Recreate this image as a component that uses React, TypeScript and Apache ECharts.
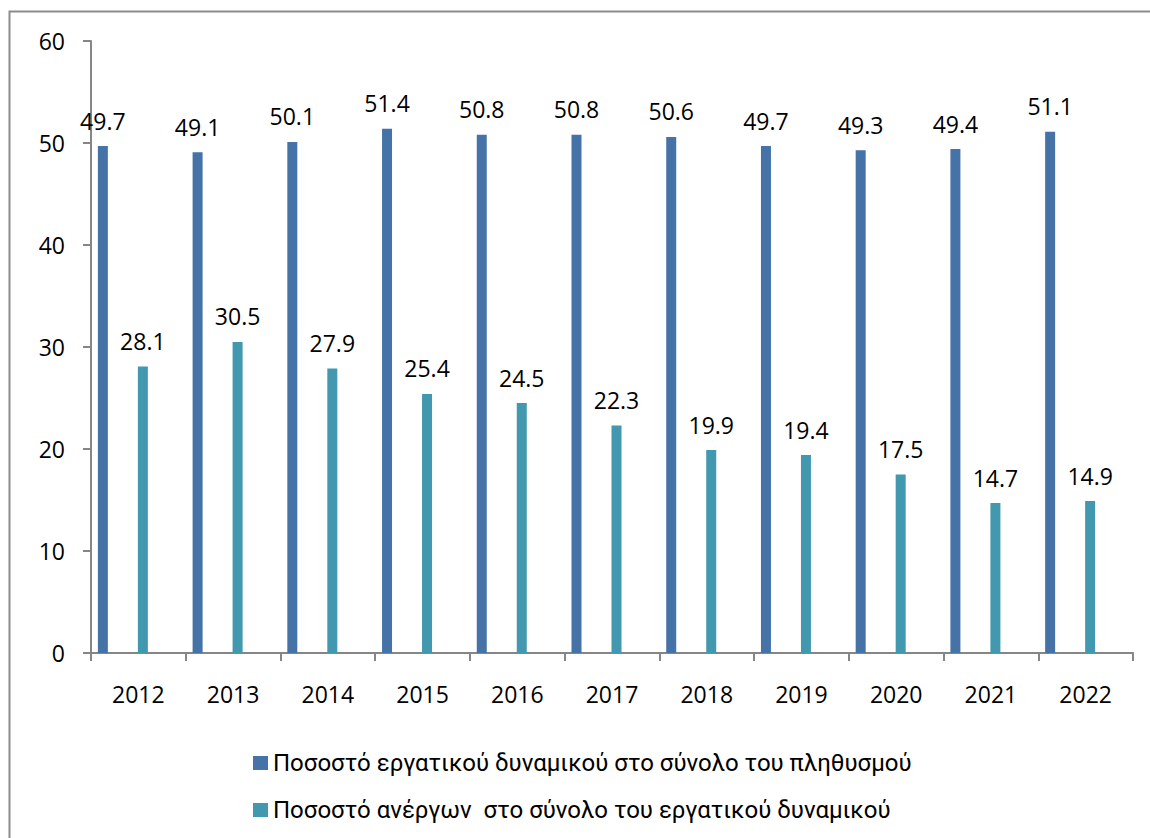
import React, { useEffect, useRef } from "react";
import * as echarts from "echarts";

const years = ["2012", "2013", "2014", "2015", "2016", "2017", "2018", "2019", "2020", "2021", "2022"];
const laborForceShare = [49.7, 49.1, 50.1, 51.4, 50.8, 50.8, 50.6, 49.7, 49.3, 49.4, 51.1];
const unemployedShare = [28.1, 30.5, 27.9, 25.4, 24.5, 22.3, 19.9, 19.4, 17.5, 14.7, 14.9];
const emptySeries = years.map(() => null);
const seriesNames = [
  "Ποσοστό εργατικού δυναμικού στο σύνολο του πληθυσμού",
  "Ποσοστό ανέργων  στο σύνολο του εργατικού δυναμικού",
];
const yTicks = { min: 0, max: 60, interval: 10 };

const FONT = "Open Sans";
const LEGEND_FONT = "Roboto";

export default function App() {
  const ref = useRef<HTMLDivElement>(null);
  useEffect(() => {
    if (!ref.current) return;
    const chart = echarts.init(ref.current, undefined, { renderer: "svg" });
    const labelStyle = {
      show: true,
      position: "top" as const,
      distance: 14,
      fontFamily: FONT,
      fontSize: 23,
      color: "#000",
    };
    chart.setOption({
      animation: false,
      backgroundColor: "#fff",
      textStyle: { fontFamily: FONT },
      graphic: [
        {
          type: "rect",
          shape: { x: 9.5, y: 11.5, width: 1300, height: 1000 },
          style: { fill: "none", stroke: "#8c8c8c", lineWidth: 2 },
          silent: true,
        },
      ],
      grid: { left: 91, right: 17, top: 41, bottom: 185, containLabel: false },
      legend: {
        data: seriesNames,
        orient: "vertical",
        left: 248,
        top: 746,
        itemWidth: 15,
        itemHeight: 14,
        itemGap: 23,
        icon: "rect",
        textStyle: { fontFamily: LEGEND_FONT, fontSize: 24, color: "#000" },
      },
      xAxis: {
        type: "category",
        data: years,
        boundaryGap: true,
        axisLine: { lineStyle: { color: "#868686", width: 2 } },
        axisTick: { show: true, length: 8, lineStyle: { color: "#868686", width: 2 } },
        axisLabel: { fontFamily: FONT, fontSize: 23, color: "#000", margin: 29 },
      },
      yAxis: {
        type: "value",
        min: yTicks.min,
        max: yTicks.max,
        interval: yTicks.interval,
        splitLine: { show: false },
        axisLine: { show: true, lineStyle: { color: "#868686", width: 2 } },
        axisTick: { show: true, length: 8, lineStyle: { color: "#868686", width: 2 } },
        axisLabel: { fontFamily: FONT, fontSize: 23, color: "#000", margin: 26 },
      },
      series: [
        {
          name: seriesNames[0],
          type: "bar",
          data: laborForceShare,
          barWidth: 10,
          barGap: "300%",
          itemStyle: { color: "#4572A7" },
          label: labelStyle,
        },
        {
          name: seriesNames[1],
          type: "bar",
          data: unemployedShare,
          barWidth: 10,
          barGap: "300%",
          itemStyle: { color: "#4198AF" },
          label: labelStyle,
        },
        {
          name: "spacer",
          type: "bar",
          data: emptySeries,
          barWidth: 0.001,
          barGap: "300%",
          itemStyle: { color: "transparent" },
        },
      ],
    });
    return () => chart.dispose();
  }, []);
  return (
    <div
      ref={ref}
      style={{ position: "fixed", left: 0, top: 0, width: 1150, height: 838 }}
    />
  );
}
